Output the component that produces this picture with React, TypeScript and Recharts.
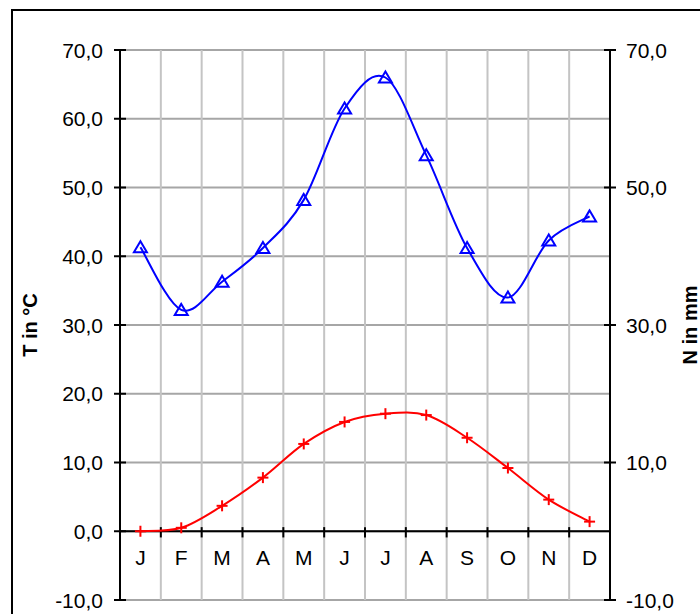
import React from 'react';
import { ComposedChart, Line, XAxis, YAxis, CartesianGrid, ReferenceLine } from 'recharts';

const MONTHS = ['J', 'F', 'M', 'A', 'M', 'J', 'J', 'A', 'S', 'O', 'N', 'D'];
const TEMP = [0.0, 0.5, 3.7, 7.8, 12.7, 15.9, 17.1, 16.9, 13.6, 9.2, 4.6, 1.4];
const PRECIP = [41.3, 32.2, 36.3, 41.2, 48.2, 61.5, 66.0, 54.7, 41.2, 34.0, 42.3, 45.8];
const T_TICKS = [-10, 0, 10, 20, 30, 40, 50, 60, 70];
const N_TICKS = [-10, 10, 30, 50, 70];

const data = MONTHS.map((m, i) => ({ x: i + 0.5, month: m, t: TEMP[i], n: PRECIP[i] }));
const monthTicks = MONTHS.map((_, i) => i + 0.5);
const boundaries = MONTHS.slice(1).map((_, i) => i + 1);

const FONT = '"Liberation Sans", Arial, sans-serif';
const fmt = (v: number) => v.toFixed(1).replace('.', ',');

// Excel-like smoothed line (Catmull-Rom through the points)
function excelCurve(context: any) {
  let pts: number[][] = [];
  return {
    areaStart() {},
    areaEnd() {},
    lineStart() {
      pts = [];
    },
    lineEnd() {
      const n = pts.length;
      if (!n) return;
      context.moveTo(pts[0][0], pts[0][1]);
      for (let i = 0; i < n - 1; i++) {
        const p0 = pts[Math.max(i - 1, 0)];
        const p1 = pts[i];
        const p2 = pts[i + 1];
        const p3 = pts[Math.min(i + 2, n - 1)];
        context.bezierCurveTo(
          p1[0] + (p2[0] - p0[0]) / 6,
          p1[1] + (p2[1] - p0[1]) / 6,
          p2[0] - (p3[0] - p1[0]) / 6,
          p2[1] - (p3[1] - p1[1]) / 6,
          p2[0],
          p2[1]
        );
      }
    },
    point(x: number, y: number) {
      pts.push([+x, +y]);
    },
  };
}

function Triangle({ cx, cy }: any) {
  if (cx == null || cy == null) return null;
  return (
    <polygon
      points={`${cx},${cy - 6} ${cx - 6.5},${cy + 5} ${cx + 6.5},${cy + 5}`}
      fill="none"
      stroke="#0000ff"
      strokeWidth={2}
    />
  );
}

function Plus({ cx, cy }: any) {
  if (cx == null || cy == null) return null;
  return (
    <g stroke="#ff0000" strokeWidth={2}>
      <line x1={cx - 5.5} x2={cx + 5.5} y1={cy} y2={cy} />
      <line x1={cx} x2={cx} y1={cy - 5.5} y2={cy + 5.5} />
    </g>
  );
}

function LeftTick({ x, y, payload }: any) {
  return (
    <g>
      <line x1={x - 6} x2={x + 6} y1={y} y2={y} stroke="#000" strokeWidth={2} />
      <text x={x - 17} y={y} textAnchor="end" dominantBaseline="central" fontSize={21} fontFamily={FONT} fill="#000">
        {fmt(payload.value)}
      </text>
    </g>
  );
}

function RightTick({ x, y, payload }: any) {
  return (
    <g>
      <line x1={x - 6} x2={x + 6} y1={y} y2={y} stroke="#000" strokeWidth={2} />
      <text x={x + 16} y={y} textAnchor="start" dominantBaseline="central" fontSize={21} fontFamily={FONT} fill="#000">
        {fmt(payload.value)}
      </text>
    </g>
  );
}

function MonthTick({ x, y, payload }: any) {
  return (
    <text x={x} y={y - 43} textAnchor="middle" dominantBaseline="central" fontSize={21} fontFamily={FONT} fill="#000">
      {MONTHS[Math.floor(payload.value)]}
    </text>
  );
}

export default function App() {
  return (
    <div style={{ position: 'absolute', left: 0, top: 0, width: 700, height: 614, overflow: 'hidden', background: '#fff' }}>
      <div
        style={{
          position: 'absolute',
          left: 11,
          top: 9,
          width: 760,
          height: 700,
          border: '2px solid #000',
        }}
      />
      <div style={{ position: 'absolute', left: 0, top: 0 }}>
        <ComposedChart width={700} height={614} data={data} margin={{ top: 50, right: 0, bottom: 0, left: 0 }}>
          <CartesianGrid yAxisId="t" vertical={false} stroke="#a6a6a6" strokeWidth={2} />
          {boundaries.map((b) => (
            <ReferenceLine key={'g' + b} x={b} yAxisId="t" stroke="#c4c4c4" strokeWidth={2} />
          ))}
          <ReferenceLine y={0} yAxisId="t" stroke="#000" strokeWidth={2} />
          {boundaries.map((b) => (
            <ReferenceLine
              key={'k' + b}
              yAxisId="t"
              segment={[{ x: b, y: -0.9 }, { x: b, y: 0.6 }]}
              stroke="#000"
              strokeWidth={2}
            />
          ))}
          <XAxis
            dataKey="x"
            type="number"
            domain={[0, 12]}
            ticks={monthTicks}
            height={14}
            axisLine={false}
            tickLine={false}
            tickSize={0}
            tickMargin={0}
            tick={<MonthTick />}
            interval={0}
          />
          <YAxis
            yAxisId="t"
            orientation="left"
            width={120}
            domain={[-10, 70]}
            ticks={T_TICKS}
            interval={0}
            axisLine={{ stroke: '#000', strokeWidth: 2 }}
            tickLine={false}
            tickSize={0}
            tickMargin={0}
            tick={<LeftTick />}
            label={({ viewBox }: any) => (
              <text
                x={viewBox.x + 30}
                y={viewBox.y + viewBox.height / 2}
                transform={`rotate(-90, ${viewBox.x + 30}, ${viewBox.y + viewBox.height / 2})`}
                textAnchor="middle"
                dominantBaseline="central"
                fontSize={20}
                fontWeight="bold"
                fontFamily={FONT}
                fill="#000"
              >
                T in °C
              </text>
            )}
          />
          <YAxis
            yAxisId="n"
            orientation="right"
            width={90}
            domain={[-10, 70]}
            ticks={N_TICKS}
            interval={0}
            axisLine={{ stroke: '#000', strokeWidth: 2 }}
            tickLine={false}
            tickSize={0}
            tickMargin={0}
            tick={<RightTick />}
            label={({ viewBox }: any) => (
              <text
                x={viewBox.x + 80}
                y={viewBox.y + viewBox.height / 2}
                transform={`rotate(-90, ${viewBox.x + 80}, ${viewBox.y + viewBox.height / 2})`}
                textAnchor="middle"
                dominantBaseline="central"
                fontSize={20}
                fontWeight="bold"
                fontFamily={FONT}
                fill="#000"
              >
                N in mm
              </text>
            )}
          />
          <Line
            yAxisId="n"
            dataKey="n"
            type={excelCurve as any}
            stroke="#0000ff"
            strokeWidth={2}
            dot={<Triangle />}
            activeDot={false}
            isAnimationActive={false}
          />
          <Line
            yAxisId="t"
            dataKey="t"
            type={excelCurve as any}
            stroke="#ff0000"
            strokeWidth={2}
            dot={<Plus />}
            activeDot={false}
            isAnimationActive={false}
          />
        </ComposedChart>
      </div>
    </div>
  );
}
